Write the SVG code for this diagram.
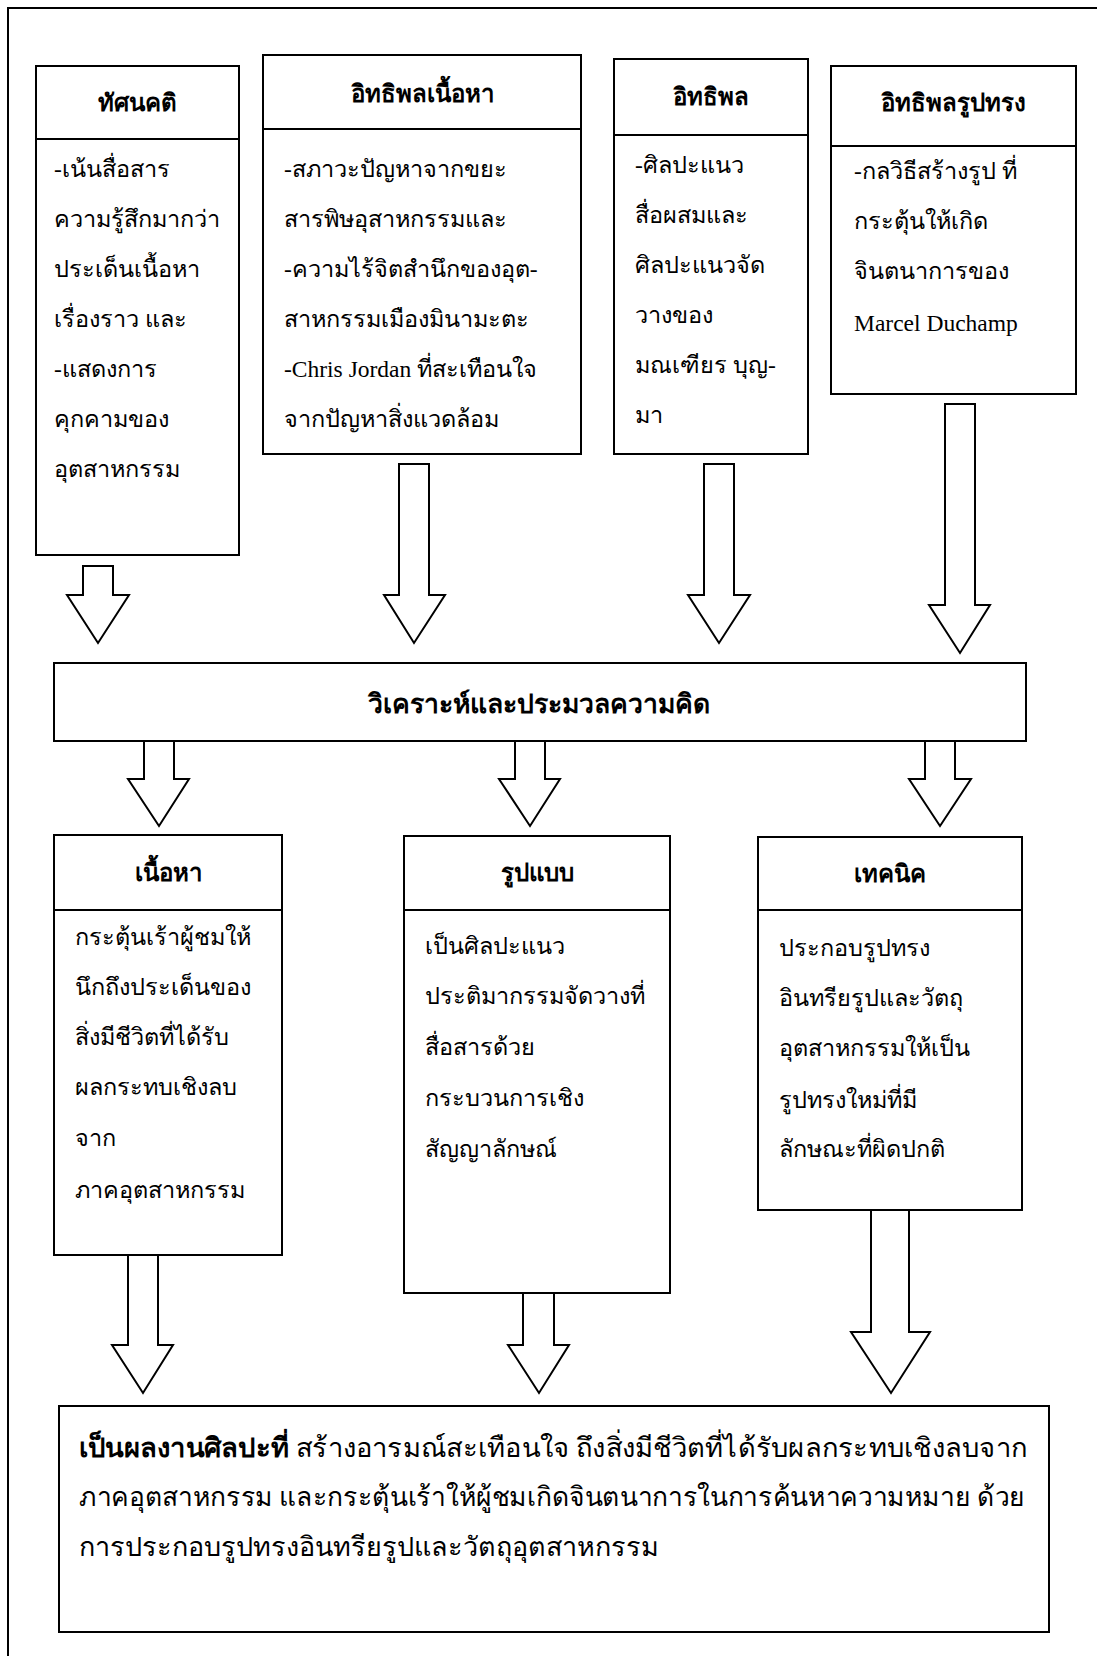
<svg xmlns="http://www.w3.org/2000/svg" width="1097" height="1656" viewBox="0 0 1097 1656">
<style>
.box{fill:#fff;stroke:#000;stroke-width:2}
.sep{stroke:#000;stroke-width:2}
.arr{fill:#fff;stroke:#000;stroke-width:2;stroke-linejoin:miter}
.t{font-family:"Liberation Serif","DejaVu Serif",serif;font-size:23.5px;fill:#000}
.r{font-family:"Liberation Serif","DejaVu Serif",serif;font-size:27px;fill:#000}
.h{font-family:"Liberation Serif","DejaVu Serif",serif;font-size:24px;font-weight:bold;fill:#000;text-anchor:middle}
</style>
<rect width="1097" height="1656" fill="#fff"/>
<path d="M8,1656 V8 H1097" fill="none" stroke="#000" stroke-width="2"/>

<g id="attitude">
<rect class="box" x="36" y="66" width="203" height="489"/>
<line class="sep" x1="36" y1="139" x2="239" y2="139"/>
<text class="h" x="137" y="111">ทัศนคติ</text>
<text class="t" x="54" y="177">-เน้นสื่อสาร</text>
<text class="t" x="54" y="227">ความรู้สึกมากว่า</text>
<text class="t" x="54" y="277">ประเด็นเนื้อหา</text>
<text class="t" x="54" y="327">เรื่องราว และ</text>
<text class="t" x="54" y="377">-แสดงการ</text>
<text class="t" x="54" y="427">คุกคามของ</text>
<text class="t" x="54" y="477">อุตสาหกรรม</text>
</g>

<g id="content-influence">
<rect class="box" x="263" y="55" width="318" height="399"/>
<line class="sep" x1="263" y1="129" x2="581" y2="129"/>
<text class="h" x="422" y="102">อิทธิพลเนื้อหา</text>
<text class="t" x="284" y="177">-สภาวะปัญหาจากขยะ</text>
<text class="t" x="284" y="227">สารพิษอุสาหกรรมและ</text>
<text class="t" x="284" y="277">-ความไร้จิตสำนึกของอุต-</text>
<text class="t" x="284" y="327">สาหกรรมเมืองมินามะตะ</text>
<text class="t" x="284" y="377">-Chris Jordan ที่สะเทือนใจ</text>
<text class="t" x="284" y="427">จากปัญหาสิ่งแวดล้อม</text>
</g>

<g id="influence">
<rect class="box" x="614" y="59" width="194" height="395"/>
<line class="sep" x1="614" y1="135" x2="808" y2="135"/>
<text class="h" x="711" y="105">อิทธิพล</text>
<text class="t" x="635" y="173">-ศิลปะแนว</text>
<text class="t" x="635" y="223">สื่อผสมและ</text>
<text class="t" x="635" y="273">ศิลปะแนวจัด</text>
<text class="t" x="635" y="323">วางของ</text>
<text class="t" x="635" y="373">มณเฑียร บุญ-</text>
<text class="t" x="635" y="423">มา</text>
</g>

<g id="form-influence">
<rect class="box" x="831" y="66" width="245" height="328"/>
<line class="sep" x1="831" y1="146" x2="1076" y2="146"/>
<text class="h" x="953" y="111">อิทธิพลรูปทรง</text>
<text class="t" x="854" y="179">-กลวิธีสร้างรูป ที่</text>
<text class="t" x="854" y="229">กระตุ้นให้เกิด</text>
<text class="t" x="854" y="279">จินตนาการของ</text>
<text class="t" x="854" y="331">Marcel Duchamp</text>
</g>

<g id="analysis">
<rect class="box" x="54" y="663" width="972" height="78"/>
<text class="h" x="539" y="713" style="font-size:26.5px">วิเคราะห์และประมวลความคิด</text>
</g>

<g id="content">
<rect class="box" x="54" y="835" width="228" height="420"/>
<line class="sep" x1="54" y1="910" x2="282" y2="910"/>
<text class="h" x="168" y="881">เนื้อหา</text>
<text class="t" x="75" y="945">กระตุ้นเร้าผู้ชมให้</text>
<text class="t" x="75" y="995">นึกถึงประเด็นของ</text>
<text class="t" x="75" y="1045">สิ่งมีชีวิตที่ได้รับ</text>
<text class="t" x="75" y="1095">ผลกระทบเชิงลบ</text>
<text class="t" x="75" y="1146">จาก</text>
<text class="t" x="75" y="1198">ภาคอุตสาหกรรม</text>
</g>

<g id="form">
<rect class="box" x="404" y="836" width="266" height="457"/>
<line class="sep" x1="404" y1="910" x2="670" y2="910"/>
<text class="h" x="537" y="881">รูปแบบ</text>
<text class="t" x="425" y="954">เป็นศิลปะแนว</text>
<text class="t" x="425" y="1004">ประติมากรรมจัดวางที่</text>
<text class="t" x="425" y="1055">สื่อสารด้วย</text>
<text class="t" x="425" y="1106">กระบวนการเชิง</text>
<text class="t" x="425" y="1157">สัญญาลักษณ์</text>
</g>

<g id="technique">
<rect class="box" x="758" y="837" width="264" height="373"/>
<line class="sep" x1="758" y1="910" x2="1022" y2="910"/>
<text class="h" x="890" y="882">เทคนิค</text>
<text class="t" x="779" y="956">ประกอบรูปทรง</text>
<text class="t" x="779" y="1006">อินทรียรูปและวัตถุ</text>
<text class="t" x="779" y="1056">อุตสาหกรรมให้เป็น</text>
<text class="t" x="779" y="1108">รูปทรงใหม่ที่มี</text>
<text class="t" x="779" y="1157">ลักษณะที่ผิดปกติ</text>
</g>

<g id="result">
<rect class="box" x="59" y="1406" width="990" height="226"/>
<text class="r" x="79" y="1457" textLength="948" lengthAdjust="spacingAndGlyphs"><tspan font-weight="bold">เป็นผลงานศิลปะที่</tspan> สร้างอารมณ์สะเทือนใจ ถึงสิ่งมีชีวิตที่ได้รับผลกระทบเชิงลบจาก</text>
<text class="r" x="79" y="1506" textLength="946" lengthAdjust="spacingAndGlyphs">ภาคอุตสาหกรรม และกระตุ้นเร้าให้ผู้ชมเกิดจินตนาการในการค้นหาความหมาย ด้วย</text>
<text class="r" x="79" y="1556">การประกอบรูปทรงอินทรียรูปและวัตถุอุตสาหกรรม</text>
</g>

<g id="connectors">
<polygon class="arr" points="83,566 113,566 113,595 129,595 98,643 67,595 83,595"/>
<polygon class="arr" points="399,464 429,464 429,595 445,595 414,643 384,595 399,595"/>
<polygon class="arr" points="704,464 734,464 734,595 750,595 719,643 688,595 704,595"/>
<polygon class="arr" points="945,404 975,404 975,605 990,605 960,653 929,605 945,605"/>
<polygon class="arr" points="144,741 174,741 174,779 189,779 159,826 128,779 144,779"/>
<polygon class="arr" points="515,741 545,741 545,779 560,779 530,826 499,779 515,779"/>
<polygon class="arr" points="925,741 955,741 955,779 971,779 940,826 909,779 925,779"/>
<polygon class="arr" points="128,1255 158,1255 158,1345 173,1345 143,1393 112,1345 128,1345"/>
<polygon class="arr" points="523,1293 554,1293 554,1345 569,1345 539,1393 508,1345 523,1345"/>
<polygon class="arr" points="871,1210 909,1210 909,1332 930,1332 891,1393 851,1332 871,1332"/>
</g>
</svg>
